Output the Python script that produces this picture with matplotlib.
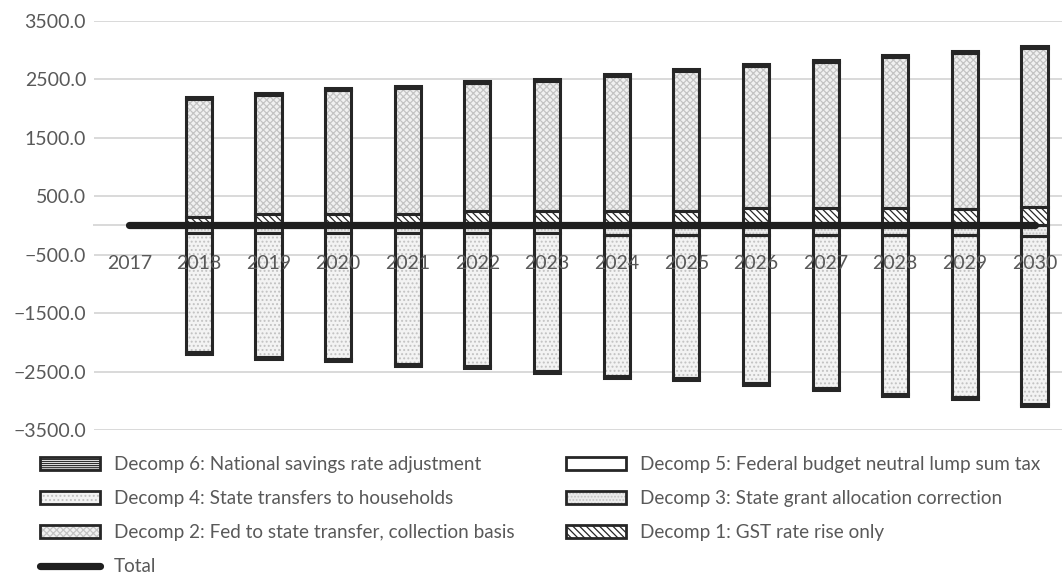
import numpy as np
import matplotlib
matplotlib.use("Agg")
import matplotlib.pyplot as plt
from matplotlib.patches import Patch
from matplotlib.lines import Line2D

plt.rcParams['font.family'] = ['Lato', 'DejaVu Sans']
plt.rcParams['hatch.linewidth'] = 0.9

years = ["2017", "2018", "2019", "2020", "2021", "2022", "2023", "2024",
         "2025", "2026", "2027", "2028", "2029", "2030"]
decomp1 = [0, 150, 190, 195, 195, 245, 245, 245, 245, 290, 290, 290, 285, 320]
decomp2 = [0, 2005, 2045, 2115, 2160, 2190, 2230, 2310, 2390, 2430, 2510, 2590, 2670, 2720]
decomp3 = [0, -125, -125, -125, -125, -125, -125, -160, -160, -160, -160, -160, -160, -185]
decomp4 = [0, -2040, -2120, -2160, -2240, -2285, -2365, -2410, -2450, -2535, -2620, -2722, -2768, -2868]
decomp5 = [0, -35, -35, -35, -35, -35, -35, -35, -35, -35, -35, -35, -35, -35]
decomp6 = [0, 35, 35, 35, 35, 35, 35, 35, 35, 35, 35, 35, 35, 35]
total = [0, 0, 0, 0, 0, 0, 0, 0, 0, 0, 0, 0, 0, 0]

labels = {
    1: "Decomp 1: GST rate rise only",
    2: "Decomp 2: Fed to state transfer, collection basis",
    3: "Decomp 3: State grant allocation correction",
    4: "Decomp 4: State transfers to households",
    5: "Decomp 5: Federal budget neutral lump sum tax",
    6: "Decomp 6: National savings rate adjustment",
}

# style: (facecolor, hatch, hatchcolor)
styles = {
    1: ("white", "\\\\\\\\\\", "#262626"),
    2: ("#f1f1f1", "xxxxx", "#c4c4c4"),
    3: ("#ececec", ".....", "#c4c4c4"),
    4: ("#f3f3f3", "....", "#c2c2c2"),
    5: ("white", None, "white"),
    6: ("white", "--------", "#303030"),
}

W, H, DPI = 1062, 579, 100
fig = plt.figure(figsize=(W / DPI, H / DPI), dpi=DPI)
left_px, top_px, bot_px = 94.4, 20.7, 430.0
ax = fig.add_axes([left_px / W, (H - bot_px) / H, 1 - left_px / W, (bot_px - top_px) / H])

x = np.arange(len(years))
step_px = 69.64
ax.set_xlim(-0.5, -0.5 + (W - left_px) / step_px)
ax.set_ylim(-3500, 3500)

edge = "#262626"
bw = 0.375
lw = 2.2

pos_series = [(1, decomp1), (2, decomp2), (6, decomp6)]
neg_series = [(3, decomp3), (4, decomp4), (5, decomp5)]

def draw_stack(series):
    bottom = np.zeros(len(years))
    for key, vals in series:
        vals = np.array(vals, dtype=float)
        fc, hatch, hc = styles[key]
        mask = vals != 0
        ax.bar(x[mask], vals[mask], bw, bottom=bottom[mask], color=fc,
               hatch=hatch, edgecolor=hc, linewidth=0, zorder=2)
        ax.bar(x[mask], vals[mask], bw, bottom=bottom[mask], fill=False,
               edgecolor=edge, linewidth=lw, zorder=3)
        bottom = bottom + vals

draw_stack(pos_series)
draw_stack(neg_series)

ax.plot(x, total, color="#1f1f1f", lw=5.2, solid_capstyle="round", zorder=5)

# axes styling
grid_c = "#d9d9d9"
yt = np.arange(-3500, 3501, 1000)
ax.set_yticks(yt)
ax.set_yticklabels([("\u2212" if v < 0 else "") + f"{abs(v):.1f}" for v in yt])
ax.yaxis.grid(True, color=grid_c, lw=1.4)
ax.set_axisbelow(True)
ax.xaxis.set_zorder(6)
ax.set_xticks(x)
ax.set_xticklabels(years)
for s in ["top", "right", "left"]:
    ax.spines[s].set_visible(False)
ax.spines["bottom"].set_position(("data", 0))
ax.spines["bottom"].set_color(grid_c)
ax.spines["bottom"].set_linewidth(1.4)
ax.spines["bottom"].set_zorder(0.5)
ax.tick_params(axis="y", length=0, pad=6, labelsize=14, labelcolor="#595959")
ax.tick_params(axis="x", length=0, pad=21, labelsize=14, labelcolor="#595959")

# legend
def handle(key):
    fc, hatch, hc = styles[key]
    p1 = Patch(facecolor=fc, hatch=hatch, edgecolor=hc, linewidth=0)
    p2 = Patch(fill=False, edgecolor=edge, linewidth=2.0)
    return (p1, p2)

tot_handle = Line2D([0], [0], color="#1f1f1f", lw=5.2, solid_capstyle="round")

fs = 13.6
common = dict(frameon=False, fontsize=fs, handlelength=3.18, handleheight=0.64,
              handletextpad=0.75, labelspacing=0.9, borderpad=0, borderaxespad=0,
              loc="upper left", labelcolor="#595959")

h1 = [handle(6), handle(4), handle(2), tot_handle]
l1 = [labels[6], labels[4], labels[2], "Total"]
leg1 = fig.legend(h1, l1, bbox_to_anchor=(40 / W, (H - 456) / H), **common)
h2 = [handle(5), handle(3), handle(1)]
l2 = [labels[5], labels[3], labels[1]]
leg2 = fig.legend(h2, l2, bbox_to_anchor=(566 / W, (H - 456) / H), **common)

fig.savefig("out.png", dpi=DPI)
